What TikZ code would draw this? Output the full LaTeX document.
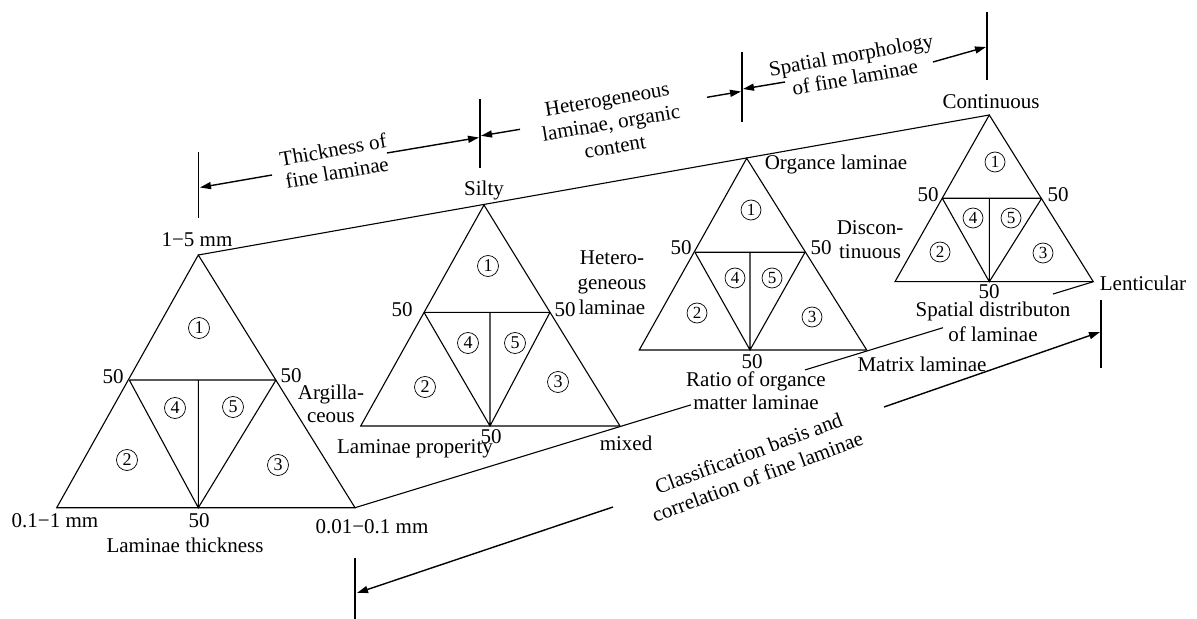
\documentclass[tikz,border=0pt]{standalone}
\usepackage{fontspec}
\setmainfont{Liberation Serif}
\usetikzlibrary{arrows.meta,calc}
\begin{document}
\begin{tikzpicture}[x=1bp,y=-1bp,
  edge/.style={line width=1.1bp, line join=miter},
  dimarrow/.style={line width=1.4bp, -{Triangle[length=11bp,width=7bp]}},
  tickline/.style={line width=1.1bp},
  lbl/.style={font=\fontsize{21bp}{23bp}\selectfont, inner sep=0pt, align=center},
  cn/.style={circle, draw, line width=0.7bp, minimum size=21bp, inner sep=0pt, font=\fontsize{18bp}{18bp}\selectfont},
  cns/.style={cn, minimum size=20bp, font=\fontsize{17bp}{17bp}\selectfont},
]
\useasboundingbox (0,0) rectangle (1197,619);

% triangle corners
\coordinate (a1) at (198.3,255);   \coordinate (l1) at (56.7,507.7);  \coordinate (r1) at (355,507.7);
\coordinate (ml1) at (129.3,380);  \coordinate (mr1) at (276,380);    \coordinate (b1) at (198.3,507.7); \coordinate (c1) at (198.3,380);
\coordinate (a2) at (484,205);     \coordinate (l2) at (360.7,426);   \coordinate (r2) at (620,426);
\coordinate (ml2) at (424,312.3);  \coordinate (mr2) at (550,312.3);  \coordinate (b2) at (490,426);     \coordinate (c2) at (490,312.3);
\coordinate (a3) at (746.7,158.3); \coordinate (l3) at (639.3,350);   \coordinate (r3) at (866.7,350);
\coordinate (ml3) at (695,252.3);  \coordinate (mr3) at (805,252.3);  \coordinate (b3) at (750,350);     \coordinate (c3) at (750,252.3);
\coordinate (a4) at (989.3,115);   \coordinate (l4) at (895,281.7);   \coordinate (r4) at (1093.3,281.7);
\coordinate (ml4) at (942.3,198.3);\coordinate (mr4) at (1041.7,198.3);\coordinate (b4) at (989.3,281.7);\coordinate (c4) at (989.3,198.3);

\foreach \i in {1,...,4} {
  \draw[edge] (a\i) -- (l\i) -- (r\i) -- cycle;
  \draw[edge] (ml\i) -- (mr\i) (ml\i) -- (b\i) -- (mr\i) (c\i) -- (b\i);
}

% connecting lines
\draw[edge] (a1) -- (a4);
\draw[edge] (r1) -- ($(r1)!0.455!(r4)$) coordinate (g1);
\draw[edge] ($(r1)!0.6095!(r4)$) coordinate (g2) -- ($(r1)!0.7964!(r4)$) coordinate (g3);
\draw[edge] ($(r1)!0.9454!(r4)$) coordinate (g4) -- (r4);

% ticks
\coordinate (tk1t) at (198.5,152); \coordinate (tk1b) at (198.5,218);
\coordinate (tk2t) at (480,99);    \coordinate (tk2b) at (480,168);
\coordinate (tk3t) at (742,52);    \coordinate (tk3b) at (742,122);
\coordinate (tk4t) at (987,12);    \coordinate (tk4b) at (987,80);
\coordinate (tk5t) at (355,558);   \coordinate (tk5b) at (355,619);
\coordinate (tk6t) at (1101,300);  \coordinate (tk6b) at (1101,368);
\foreach \i in {1,...,6} { \draw[tickline] (tk\i t) -- (tk\i b); }

% dimension arrows
\coordinate (s1) at (272,175);  \coordinate (e1) at (200,187.5);
\coordinate (s2) at (387,153);  \coordinate (e2) at (479,137.5);
\coordinate (s3) at (520,129.3);\coordinate (e3) at (481,135.8);
\coordinate (s4) at (707,97.3); \coordinate (e4) at (741,91.5);
\coordinate (s5) at (785,82);   \coordinate (e5) at (743,89);
\coordinate (s6) at (933,62);   \coordinate (e6) at (986,47);
\coordinate (s7) at (613,507);  \coordinate (e7) at (357,593);
\coordinate (s8) at (884,407);  \coordinate (e8) at (1100,332);
\foreach \i in {1,...,8} { \draw[dimarrow] (s\i) -- (e\i); }

% labels
\node[lbl] (t15) at (197,240) {1−5 mm};
\node[lbl] (t011) at (55,521) {0.1−1 mm};
\node[lbl] (t1b50) at (199,521) {50};
\node[lbl] (tlt) at (185,545) {Laminae thickness};
\node[lbl] (t001) at (372,527) {0.01−0.1 mm};
\node[lbl] (t1l50) at (113,377) {50};
\node[lbl] (t1r50) at (291,376) {50};
\node[lbl] (targ) at (331,404) {Argilla-\\ceous};
\node[lbl] (tsil) at (484,190) {Silty};
\node[lbl] (t2l50) at (402,310) {50};
\node[lbl] (t2r50) at (565,310) {50};
\node[lbl] (t2b50) at (491,437) {50};
\node[lbl] (tlp) at (415,449) {Laminae properity};
\node[lbl] (tmix) at (626,443) {mixed};
\node[lbl, font=\fontsize{21bp}{25bp}\selectfont] (thet) at (612,283) {Hetero-\\geneous\\laminae};
\node[lbl] (torg) at (836,164) {Organce laminae};
\node[lbl] (t3l50) at (681,248) {50};
\node[lbl] (t3r50) at (821,248) {50};
\node[lbl] (t3b50) at (752,362) {50};
\node[lbl] (trat) at (756,391) {Ratio of organce\\matter laminae};
\node[lbl] (tmat) at (922,364) {Matrix laminae};
\node[lbl] (tcon) at (991,102) {Continuous};
\node[lbl, font=\fontsize{21bp}{24bp}\selectfont] (tdis) at (870,240) {Discon-\\tinuous};
\node[lbl] (t4l50) at (928,195) {50};
\node[lbl] (t4r50) at (1058,195) {50};
\node[lbl] (t4b50) at (989,292) {50};
\node[lbl] (tlen) at (1143,283) {Lenticular};
\node[lbl, font=\fontsize{21bp}{25bp}\selectfont] (tspd) at (993,322) {Spatial distributon\\of laminae};
\node[lbl, rotate=10] (tthk) at (335,161) {Thickness of\\fine laminae};
\node[lbl, rotate=9.5, font=\fontsize{21bp}{24bp}\selectfont] (thoc) at (611,123) {Heterogeneous\\laminae, organic\\content};
\node[lbl, rotate=10] (tspm) at (853,66) {Spatial morphology\\of fine laminae};
\node[lbl, rotate=20.5, font=\fontsize{21bp}{25bp}\selectfont] (tcls) at (753,465) {Classification basis and\\correlation of fine laminae};

% circled numbers
\node[cn] (n11) at (199,328) {1}; \node[cn] (n12) at (127,460) {2}; \node[cn] (n13) at (278,465) {3};
\node[cn] (n14) at (175,408) {4}; \node[cn] (n15) at (233,407) {5};
\node[cn] (n21) at (488,266) {1}; \node[cn] (n22) at (425,387) {2}; \node[cn] (n23) at (558,382) {3};
\node[cn] (n24) at (468,343) {4}; \node[cn] (n25) at (515,343) {5};
\node[cns] (n31) at (751,210) {1}; \node[cns] (n32) at (697,313) {2}; \node[cns] (n33) at (812,317) {3};
\node[cns] (n34) at (735,278) {4}; \node[cns] (n35) at (772,278) {5};
\node[cns] (n41) at (995,162) {1}; \node[cns] (n42) at (940,252) {2}; \node[cns] (n43) at (1043,253) {3};
\node[cns] (n44) at (973,218) {4}; \node[cns] (n45) at (1011,218) {5};
\end{tikzpicture}
\end{document}
